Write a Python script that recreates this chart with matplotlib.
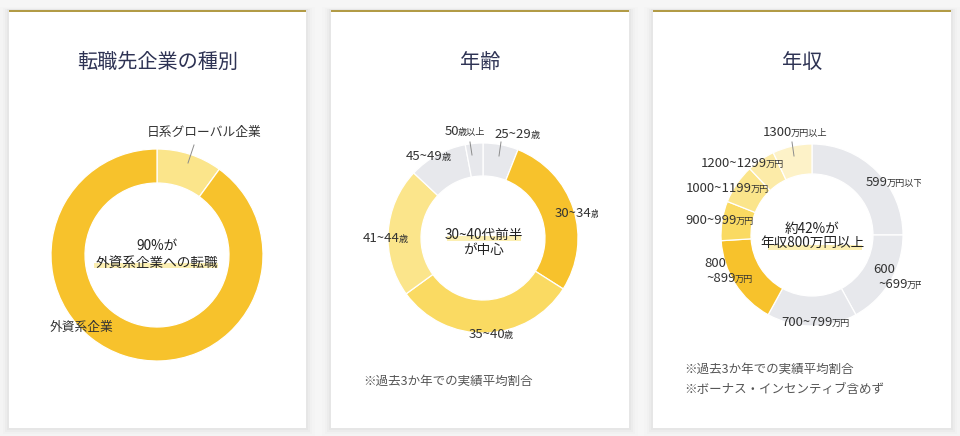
import matplotlib
matplotlib.use('Agg')
import matplotlib.pyplot as plt
from matplotlib.patches import Rectangle
from matplotlib.transforms import Bbox

plt.rcParams['font.family'] = ['Noto Sans CJK JP', 'DejaVu Sans']

# ---------------- data ----------------
titles = ['転職先企業の種別', '年齢', '年収']

company_labels = [('日系グローバル企業', ''), ('外資系企業', '')]
company_share = [10, 90]

age_labels = [('25~29', '歳'), ('30~34', '歳'), ('35~40', '歳'),
              ('41~44', '歳'), ('45~49', '歳'), ('50', '歳以上')]
age_share = [6, 28, 31, 22, 10, 3]

income_labels = [('599', '万円以下'), ('~699', '万円'), ('700~799', '万円'),
                 ('~899', '万円'), ('900~999', '万円'), ('1000~1199', '万円'),
                 ('1200~1299', '万円'), ('1300', '万円以上')]
income_label_heads = ['', '600', '', '800', '', '', '', '']
income_share = [25, 17, 16, 16, 7, 7, 5, 7]

center_texts = [('90%が', '外資系企業への転職'),
                ('30~40代前半', 'が中心'),
                ('約42%が', '年収800万円以上')]
footnotes = [[], ['※過去3か年での実績平均割合'],
             ['※過去3か年での実績平均割合', '※ボーナス・インセンティブ含めず']]

# ---------------- style ----------------
Y1 = '#F7C22C'
Y2 = '#FADA62'
Y3 = '#FBE58B'
Y4 = '#FCEBA8'
Y5 = '#FDF2C8'
GR = '#E7E8EC'
company_colors = [Y3, Y1]
age_colors = [GR, Y1, Y2, Y3, GR, GR]
income_colors = [GR, GR, GR, Y1, Y2, Y3, Y4, Y5]

W, H = 960, 436
fig = plt.figure(figsize=(W / 100, H / 100), dpi=100)
fig.patch.set_facecolor('#F6F6F6')

bg = fig.add_axes([0, 0, 1, 1], zorder=0)
bg.set_xlim(0, W); bg.set_ylim(H, 0); bg.axis('off')

cards = [(9, 306), (331, 629), (653, 951)]
TOP, BOT = 10, 428
for x0, x1 in cards:
    for pad, a in [(9, 0.008), (6, 0.012), (4, 0.018), (2, 0.025)]:
        bg.add_patch(Rectangle((x0 - pad, TOP - pad * 0.3), x1 - x0 + 2 * pad,
                               BOT - TOP + pad * 1.3, facecolor='black',
                               edgecolor='none', alpha=a))
    bg.add_patch(Rectangle((x0, TOP), x1 - x0, BOT - TOP, facecolor='white',
                           edgecolor='none'))
    bg.add_patch(Rectangle((x0, TOP), x1 - x0, 2.5, facecolor='#B29B46',
                           edgecolor='none'))


def donut(cx, cy, R, inner, values, colors):
    ax = fig.add_axes([(cx - R) / W, (H - cy - R) / H, 2 * R / W, 2 * R / H],
                      zorder=1)
    wedges, _ = ax.pie(values, colors=colors, startangle=90, counterclock=False,
                       radius=1, wedgeprops=dict(width=1 - inner / R,
                                                 edgecolor='white',
                                                 linewidth=0.9))
    for w in wedges:
        w.set_clip_on(False)
    ax.set_xlim(-1, 1); ax.set_ylim(-1, 1)
    ax.set_aspect('auto')
    ax.axis('off')
    ax.patch.set_visible(False)
    return ax


donut(157, 255, 106, 72, company_share, company_colors)
donut(483, 238, 95, 62, age_share, age_colors)
donut(812, 235, 91, 61, income_share, income_colors)

ov = fig.add_axes([0, 0, 1, 1], zorder=2)
ov.set_xlim(0, W); ov.set_ylim(H, 0); ov.axis('off')
ov.patch.set_visible(False)

renderer = fig.canvas.get_renderer()
TXT = '#333333'


def clipit(t, clip):
    if clip is not None:
        t.set_clip_box(Bbox.from_extents(clip[0], 0, clip[1], H))
        t.set_clip_on(True)


def unit_label(x, yc, main, unit, ha='center', size=9.5, usize=6.6,
               color=TXT, clip=None):
    yb = yc + size * 0.5
    t1 = ov.text(0, yb, main, fontsize=size, va='baseline', ha='left',
                 color=color)
    w1 = t1.get_window_extent(renderer).width
    w2 = 0
    t2 = None
    if unit:
        t2 = ov.text(0, yb, unit, fontsize=usize, va='baseline', ha='left',
                     color=color)
        w2 = t2.get_window_extent(renderer).width
    tot = w1 + w2 - (1.2 if unit else 0)
    if ha == 'center':
        x0 = x - tot / 2
    elif ha == 'left':
        x0 = x
    else:
        x0 = x - tot
    t1.set_x(x0)
    clipit(t1, clip)
    if t2 is not None:
        t2.set_x(x0 + w1 - 1.2)
        clipit(t2, clip)


def leader(p0, p1):
    ov.plot([p0[0], p1[0]], [p0[1], p1[1]], color='#8C8C8C', lw=0.7)


# titles
for (x0, x1), t in zip(cards, titles):
    ov.text((x0 + x1) / 2, 62, t, fontsize=14.5, color='#2E3354',
            ha='center', va='center')

# panel 1 labels
unit_label(204, 131, *company_labels[0], size=9.2)
unit_label(82, 326, *company_labels[1], size=9.2)
leader((194, 145), (188, 163))

# panel 2 labels
age_pos = [(517, 133, 'center', None), (555, 212, 'left', (331, 598)),
           (491, 333, 'center', None), (385, 237, 'center', None),
           (428, 155, 'center', None), (465, 130, 'center', None)]
for (m, u), (x, y, ha, clip) in zip(age_labels, age_pos):
    unit_label(x, y, m, u, ha=ha, clip=clip)
leader((470, 142), (472, 155))
leader((501, 142), (499, 156))

# panel 3 labels
inc_pos = [(866, 181, 'left', (653, 921)), (878, 283, 'left', (653, 921)),
           (816, 321, 'center', None), (730, 277, 'center', None),
           (720, 219, 'center', None), (727, 187, 'center', None),
           (742, 162, 'center', None), (795, 131, 'center', None)]
head_pos = [None, (873, 268, 'left'), None, (715, 262, 'center'),
            None, None, None, None]
for (m, u), (x, y, ha, clip), hd, hp in zip(income_labels, inc_pos,
                                            income_label_heads, head_pos):
    unit_label(x, y, m, u, ha=ha, clip=clip)
    if hd:
        unit_label(hp[0], hp[1], hd, '', ha=hp[2])
leader((792, 142), (794, 156))

# center texts with highlight markers
HL = '#FCEFB2'
centers = [(157, 246, 263), (484, 234.5, 250), (812, 228.5, 242.5)]
hl_boxes = [(94, 218, 263, 268), (447, 521, 236, 241), (768, 862, 245, 249.5)]
for (l1, l2), (cx, y1, y2), (hx0, hx1, hy0, hy1) in zip(center_texts, centers,
                                                        hl_boxes):
    ov.add_patch(Rectangle((hx0, hy0), hx1 - hx0, hy1 - hy0, facecolor=HL,
                           edgecolor='none', zorder=1))
    ov.text(cx, y1, l1, fontsize=9.8, color='#222222', ha='center',
            va='center', zorder=3)
    ov.text(cx, y2, l2, fontsize=9.8, color='#222222', ha='center',
            va='center', zorder=3)

# footnotes
foot_pos = [None, [(363, 381)], [(684, 369), (684, 389)]]
for notes, pos in zip(footnotes, foot_pos):
    for n, (x, y) in zip(notes, pos or []):
        ov.text(x, y, n, fontsize=9, color='#555555', ha='left', va='center')

fig.savefig('out.png', dpi=100, facecolor=fig.get_facecolor())
